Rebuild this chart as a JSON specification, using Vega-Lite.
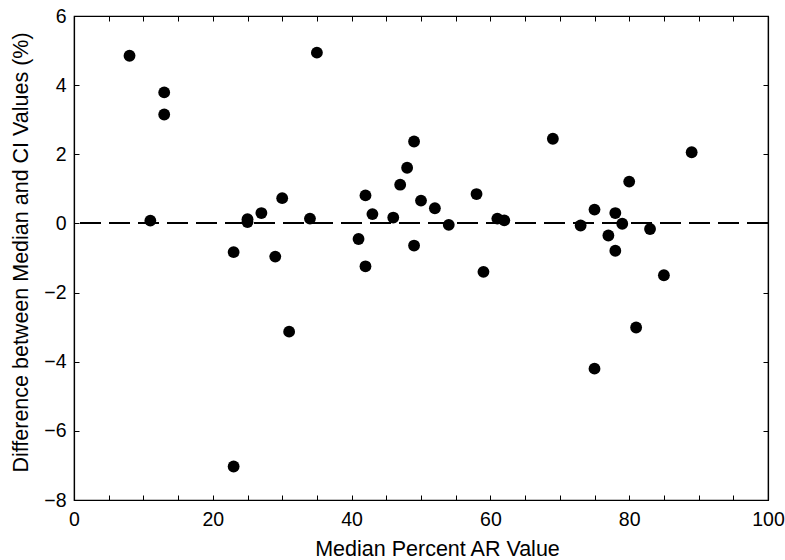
{
  "$schema": "https://vega.github.io/schema/vega-lite/v6.json",
  "width": 694,
  "height": 484,
  "autosize": {"type": "none"},
  "padding": {"left": 74, "top": 16, "right": 17, "bottom": 60},
  "background": "white",
  "config": {
    "view": {"stroke": "black", "strokeWidth": 1.2},
    "font": "Liberation Sans",
    "axis": {
      "grid": false,
      "domainColor": "black",
      "domainWidth": 1.2,
      "tickColor": "black",
      "tickWidth": 1,
      "tickSize": -5,
      "labelColor": "black",
      "labelFont": "Liberation Sans",
      "labelFontSize": 19.5,
      "titleFont": "Liberation Sans",
      "titleFontSize": 21.5,
      "titleFontWeight": "normal",
      "titleColor": "black"
    }
  },
  "data": {
    "values": [
      {"ar": 8, "diff": 4.85},
      {"ar": 11, "diff": 0.08},
      {"ar": 13, "diff": 3.79},
      {"ar": 13, "diff": 3.15},
      {"ar": 23, "diff": -0.83},
      {"ar": 23, "diff": -7.03},
      {"ar": 25, "diff": 0.12},
      {"ar": 25, "diff": 0.04},
      {"ar": 27, "diff": 0.3},
      {"ar": 29, "diff": -0.96},
      {"ar": 30, "diff": 0.73},
      {"ar": 31, "diff": -3.13},
      {"ar": 34, "diff": 0.14},
      {"ar": 35, "diff": 4.94},
      {"ar": 41, "diff": -0.45},
      {"ar": 42, "diff": 0.81},
      {"ar": 42, "diff": -1.24},
      {"ar": 43, "diff": 0.27},
      {"ar": 46, "diff": 0.17},
      {"ar": 47, "diff": 1.12},
      {"ar": 48, "diff": 1.61},
      {"ar": 49, "diff": 2.37},
      {"ar": 49, "diff": -0.64},
      {"ar": 50, "diff": 0.66},
      {"ar": 52, "diff": 0.44},
      {"ar": 54, "diff": -0.04},
      {"ar": 58, "diff": 0.85},
      {"ar": 59, "diff": -1.4},
      {"ar": 61, "diff": 0.14},
      {"ar": 62, "diff": 0.09},
      {"ar": 69, "diff": 2.45},
      {"ar": 73, "diff": -0.06},
      {"ar": 75, "diff": 0.4},
      {"ar": 75, "diff": -4.2},
      {"ar": 77, "diff": -0.35},
      {"ar": 78, "diff": 0.3},
      {"ar": 78, "diff": -0.79},
      {"ar": 79, "diff": -0.01},
      {"ar": 80, "diff": 1.21},
      {"ar": 81, "diff": -3.01},
      {"ar": 83, "diff": -0.16},
      {"ar": 85, "diff": -1.5},
      {"ar": 89, "diff": 2.06}
    ]
  },
  "layer": [
    {
      "mark": {"type": "circle", "color": "black", "opacity": 1, "size": 140},
      "encoding": {
        "x": {
          "field": "ar", "type": "quantitative",
          "scale": {"domain": [0, 100], "nice": false, "zero": false},
          "axis": {
            "orient": "bottom",
            "title": "Median Percent AR Value",
            "values": [0,5,10,15,20,25,30,35,40,45,50,55,60,65,70,75,80,85,90,95,100],
            "labelExpr": "datum.value % 20 === 0 ? datum.label : ''",
            "labelPadding": 15,
            "labelFlush": false,
            "labelOverlap": false,
            "titleX": 363,
            "titleY": 55,
            "titleBaseline": "alphabetic"
          }
        },
        "y": {
          "field": "diff", "type": "quantitative",
          "scale": {"domain": [-8, 6], "nice": false, "zero": false},
          "axis": {
            "orient": "left",
            "title": "Difference between Median and CI Values (%)",
            "values": [-8,-6,-4,-2,0,2,4,6],
            "labelPadding": 13,
            "labelFlush": false,
            "labelOverlap": false,
            "titleX": -47,
            "titleY": 236,
            "titleBaseline": "alphabetic"
          }
        }
      }
    },
    {
      "mark": {"type": "point", "opacity": 0},
      "encoding": {
        "x": {
          "field": "ar", "type": "quantitative",
          "scale": {"domain": [0, 100], "nice": false, "zero": false},
          "axis": {
            "orient": "top", "title": null, "labels": false,
            "values": [0,5,10,15,20,25,30,35,40,45,50,55,60,65,70,75,80,85,90,95,100]
          }
        },
        "y": {
          "field": "diff", "type": "quantitative",
          "scale": {"domain": [-8, 6], "nice": false, "zero": false},
          "axis": {
            "orient": "right", "title": null, "labels": false,
            "values": [-8,-6,-4,-2,0,2,4,6]
          }
        }
      }
    },
    {
      "mark": {"type": "rule", "color": "black", "strokeWidth": 1.2, "strokeDash": [21, 8]},
      "encoding": {
        "y": {"datum": 0, "type": "quantitative", "axis": null}
      }
    }
  ],
  "resolve": {"axis": {"x": "independent", "y": "independent"}}
}
